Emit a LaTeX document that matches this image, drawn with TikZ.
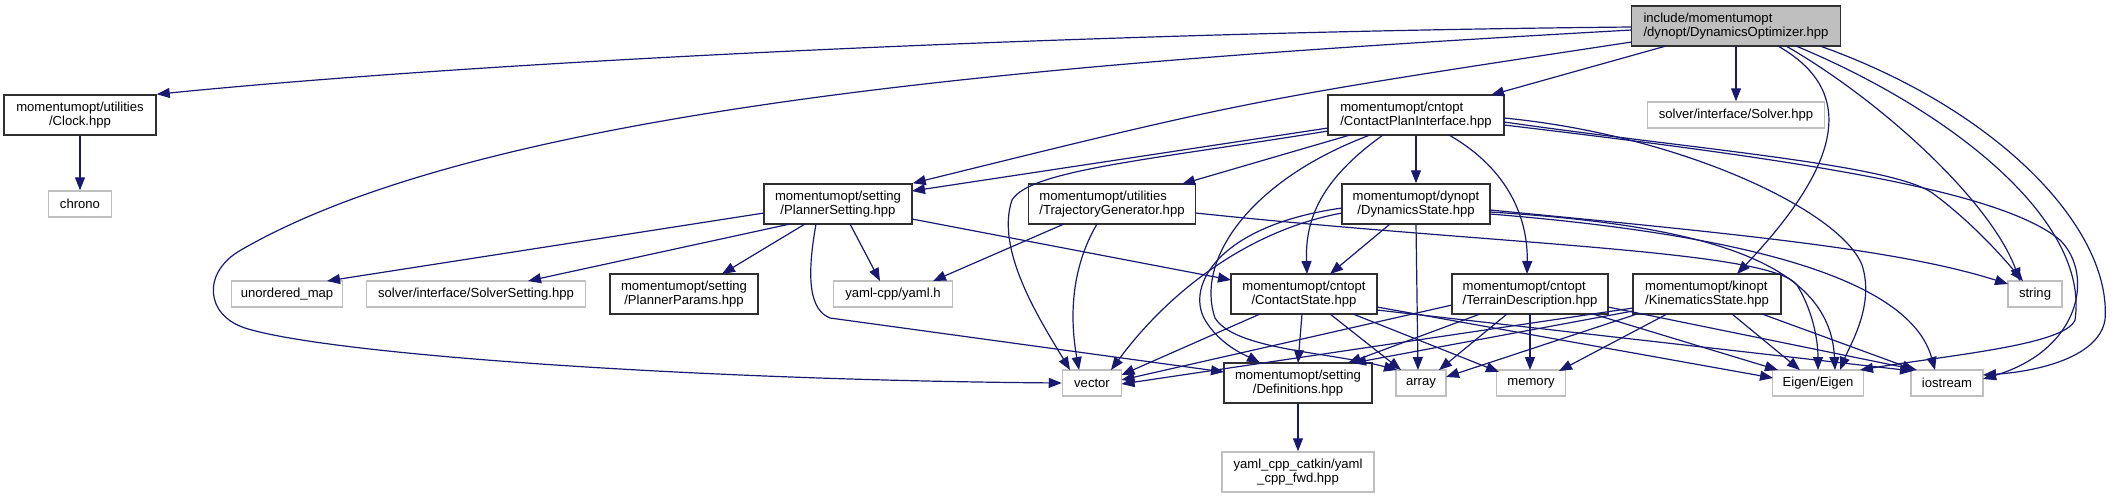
\documentclass[tikz,border=0pt]{standalone}
\usepackage{fontspec}
\setmainfont{Liberation Sans}
\usetikzlibrary{arrows.meta,calc}
\definecolor{edgec}{HTML}{191970}
\definecolor{extc}{HTML}{BFBFBF}
\definecolor{intc}{HTML}{303030}
\begin{document}
\begin{tikzpicture}[x=0.5pt,y=-0.5pt,
  box/.style={draw=intc, line width=0.75pt, inner sep=0pt, align=center,
    font=\fontsize{6.55}{7}\selectfont, minimum height=20pt},
  lbox/.style={box, align=left},
  ext/.style={draw=extc, line width=0.75pt, inner sep=0pt, align=center,
    font=\fontsize{6.55}{7}\selectfont, minimum height=13pt},
  e/.style={color=edgec, line width=0.6pt, -{Triangle[length=6.5pt,width=5pt]}}]
\useasboundingbox (0,0) rectangle (2115,499);
% nodes
\node[lbox, fill=extc, minimum width=104.5pt] (DO) at (1736,26) {include/momentumopt\\/dynopt/DynamicsOptimizer.hpp};
\node[box, minimum width=76pt] (Clock) at (80,115) {momentumopt/utilities\\/Clock.hpp};
\node[ext, minimum width=31.5pt] (chrono) at (80,204) {chrono};
\node[lbox, minimum width=88pt] (CPI) at (1416,115) {momentumopt/cntopt\\/ContactPlanInterface.hpp};
\node[ext, minimum width=88.5pt] (Solver) at (1736,115) {solver/interface/Solver.hpp};
\node[box, minimum width=74pt] (PS) at (838,204) {momentumopt/setting\\/PlannerSetting.hpp};
\node[lbox, minimum width=83.5pt] (TG) at (1112,204) {momentumopt/utilities\\/TrajectoryGenerator.hpp};
\node[box, minimum width=74pt] (DS) at (1416,204) {momentumopt/dynopt\\/DynamicsState.hpp};
\node[ext, minimum width=55.5pt] (umap) at (287,294) {unordered\_map};
\node[ext, minimum width=109.5pt] (SS) at (476,294) {solver/interface/SolverSetting.hpp};
\node[box, minimum width=74pt] (PP) at (684,294) {momentumopt/setting\\/PlannerParams.hpp};
\node[ext, minimum width=59.5pt] (yaml) at (893,294) {yaml-cpp/yaml.h};
\node[box, minimum width=73pt] (CS) at (1304,294) {momentumopt/cntopt\\/ContactState.hpp};
\node[lbox, minimum width=78pt] (TD) at (1530,294) {momentumopt/cntopt\\/TerrainDescription.hpp};
\node[lbox, minimum width=74pt] (KS) at (1707,294) {momentumopt/kinopt\\/KinematicsState.hpp};
\node[ext, minimum width=27pt] (string) at (2035,294) {string};
\node[ext, minimum width=29.5pt] (vector) at (1092,383) {vector};
\node[box, minimum width=74pt] (Defs) at (1298,383) {momentumopt/setting\\/Definitions.hpp};
\node[ext, minimum width=25pt] (array) at (1421,383) {array};
\node[ext, minimum width=34.5pt] (memory) at (1531,383) {memory};
\node[ext, minimum width=45.5pt] (Eigen) at (1818,383) {Eigen/Eigen};
\node[ext, minimum width=36pt] (iostream) at (1947,383) {iostream};
\node[ext, minimum width=76pt, minimum height=20pt] (fwd) at (1298,472) {yaml\_cpp\_catkin/yaml\\\_cpp\_fwd.hpp};
% edges from DynamicsOptimizer
\draw[e] ($(DO)+(-104.5,1)$) .. controls (1100,32) and (500,60) .. (Clock.north east);
\draw[e] ($(DO)+(-104.5,4)$) .. controls (1100,60) and (500,100) .. (241,250) .. controls (202,272) and (205,315) .. (245,328) .. controls (330,355) and (700,380) .. (vector.west);
\draw[e] ($(DO)+(-104.5,16)$) .. controls (1250,100) .. (PS.north east);
\draw[e] ($(DO)+(-70,20)$) -- ($(CPI)+(75,-20)$);
\draw[e] (DO.south) -- (Solver.north);
\draw[e] ($(DO)+(42,20)$) .. controls (1855,90) and (1845,160) .. ($(KS)+(30,-20)$);
\draw[e] ($(DO)+(50,20)$) .. controls (1880,100) and (1990,200) .. ($(string)+(-15,-13)$);
\draw[e] ($(DO)+(60,20)$) .. controls (1950,110) and (2090,220) .. (2075,320) .. controls (2065,345) and (1950,355) .. ($(Eigen)+(42,-13)$);
\draw[e] ($(DO)+(84,20)$) .. controls (2000,110) and (2112,230) .. (2105,320) .. controls (2098,360) and (2030,372) .. ($(iostream)+(36,-8)$);
\draw[e] (Clock.south) -- (chrono.north);
% edges from ContactPlanInterface
\draw[e] ($(CPI)+(-88,13)$) -- ($(PS)+(74,-13)$);
\draw[e] ($(CPI)+(-88,16)$) .. controls (1150,160) and (1030,170) .. (1012,200) .. controls (995,250) and (1040,320) .. ($(vector)+(-22,-13)$);
\draw[e] ($(CPI)+(-66,20)$) -- ($(TG)+(70,-20)$);
\draw[e] (CPI.south) -- (DS.north);
\draw[e] ($(CPI)+(-33,20)$) .. controls (1320,180) and (1305,220) .. ($(CS)+(3,-20)$);
\draw[e] ($(CPI)+(33,20)$) .. controls (1510,170) and (1528,220) .. ($(TD)+(-3,-20)$);
\draw[e] ($(CPI)+(-46,20)$) .. controls (1250,180) and (1195,260) .. (1215,318) .. controls (1235,350) and (1330,352) .. ($(array)+(-24,-13)$);
\draw[e] ($(CPI)+(88,7)$) .. controls (1700,150) and (1900,165) .. (1935,195) .. controls (1975,225) and (2005,260) .. ($(string)+(-12,-13)$);
\draw[e] ($(CPI)+(88,3)$) .. controls (1680,135) and (1840,210) .. (1862,265) .. controls (1875,305) and (1850,345) .. ($(Eigen)+(22,-13)$);
\draw[e] ($(CPI)+(88,10)$) .. controls (1800,160) and (2000,190) .. (2060,240) .. controls (2095,275) and (2080,350) .. ($(iostream)+(36,-4)$);
% edges from DynamicsState
\draw[e] ($(DS)+(-26,20)$) -- ($(CS)+(26,-20)$);
\draw[e] ($(DS)+(-74,9)$) .. controls (1250,230) and (1170,290) .. ($(vector)+(19,-13)$);
\draw[e] ($(DS)+(0,20)$) -- ($(array)+(-3,-13)$);
\draw[e] ($(DS)+(-74,4)$) .. controls (1220,225) and (1185,285) .. (1205,320) .. controls (1220,345) and (1245,355) .. ($(Defs)+(-38,-20)$);
\draw[e] ($(DS)+(74,6)$) .. controls (1750,235) and (1900,250) .. ($(string)+(-27,-10)$);
\draw[e] ($(DS)+(74,8)$) .. controls (1700,225) and (1830,260) .. ($(Eigen)+(17,-13)$);
\draw[e] ($(DS)+(74,10)$) .. controls (1750,235) and (1910,280) .. ($(iostream)+(-12,-13)$);
% edges from TrajectoryGenerator
\draw[e] ($(TG)+(-48,20)$) -- ($(yaml)+(40,-13)$);
\draw[e] ($(TG)+(-15,20)$) .. controls (1070,270) and (1070,320) .. ($(vector)+(-13,-13)$);
\draw[e] ($(TG)+(83.5,9)$) .. controls (1500,245) and (1770,250) .. (1797,285) .. controls (1815,315) and (1818,345) .. ($(Eigen)+(0,-13)$);
% edges from PlannerSetting
\draw[e] ($(PS)+(-74,9)$) -- ($(umap)+(40,-13)$);
\draw[e] ($(PS)+(-48,20)$) -- ($(SS)+(52,-13)$);
\draw[e] ($(PS)+(-33,20)$) -- ($(PP)+(38,-20)$);
\draw[e] ($(PS)+(12,20)$) -- ($(yaml)+(-13,-13)$);
\draw[e] ($(PS)+(74,15)$) -- ($(CS)+(-73,-14)$);
\draw[e] ($(PS)+(-22,20)$) .. controls (806,280) and (810,310) .. (830,318) -- ($(Defs)+(-74,-11)$);
% edges from ContactState
\draw[e] ($(CS)+(-44,20)$) -- ($(vector)+(29.5,-8)$);
\draw[e] ($(CS)+(-2,20)$) -- ($(Defs)+(0,-20)$);
\draw[e] ($(CS)+(26,20)$) -- ($(array)+(-20,-13)$);
\draw[e] ($(CS)+(49,20)$) -- ($(memory)+(-32,-11)$);
\draw[e] ($(CS)+(73,13)$) -- ($(Eigen)+(-45,-5)$);
\draw[e] ($(CS)+(73,16)$) -- ($(iostream)+(-34,-12)$);
% edges from TerrainDescription
\draw[e] ($(TD)+(-78,11)$) -- ($(vector)+(29.5,-3)$);
\draw[e] ($(TD)+(-50,20)$) -- ($(Defs)+(50,-20)$);
\draw[e] ($(TD)+(-23,20)$) -- ($(array)+(18,-13)$);
\draw[e] ($(TD)+(0,20)$) -- ($(memory)+(-1,-13)$);
\draw[e] ($(TD)+(63,20)$) -- ($(Eigen)+(-40,-13)$);
\draw[e] ($(TD)+(78,13)$) -- ($(iostream)+(-30,-13)$);
% edges from KinematicsState
\draw[e] ($(KS)+(-74,14)$) -- ($(vector)+(29.5,1)$);
\draw[e] ($(KS)+(-74,17)$) -- ($(Defs)+(55,-20)$);
\draw[e] ($(KS)+(-70,20)$) -- ($(array)+(25,-6)$);
\draw[e] ($(KS)+(-40,20)$) -- ($(memory)+(28,-12)$);
\draw[e] ($(KS)+(25,20)$) -- ($(Eigen)+(-18,-13)$);
\draw[e] ($(KS)+(55,20)$) -- ($(iostream)+(-32,-13)$);
% Definitions
\draw[e] (Defs.south) -- (fwd.north);
\end{tikzpicture}
\end{document}
